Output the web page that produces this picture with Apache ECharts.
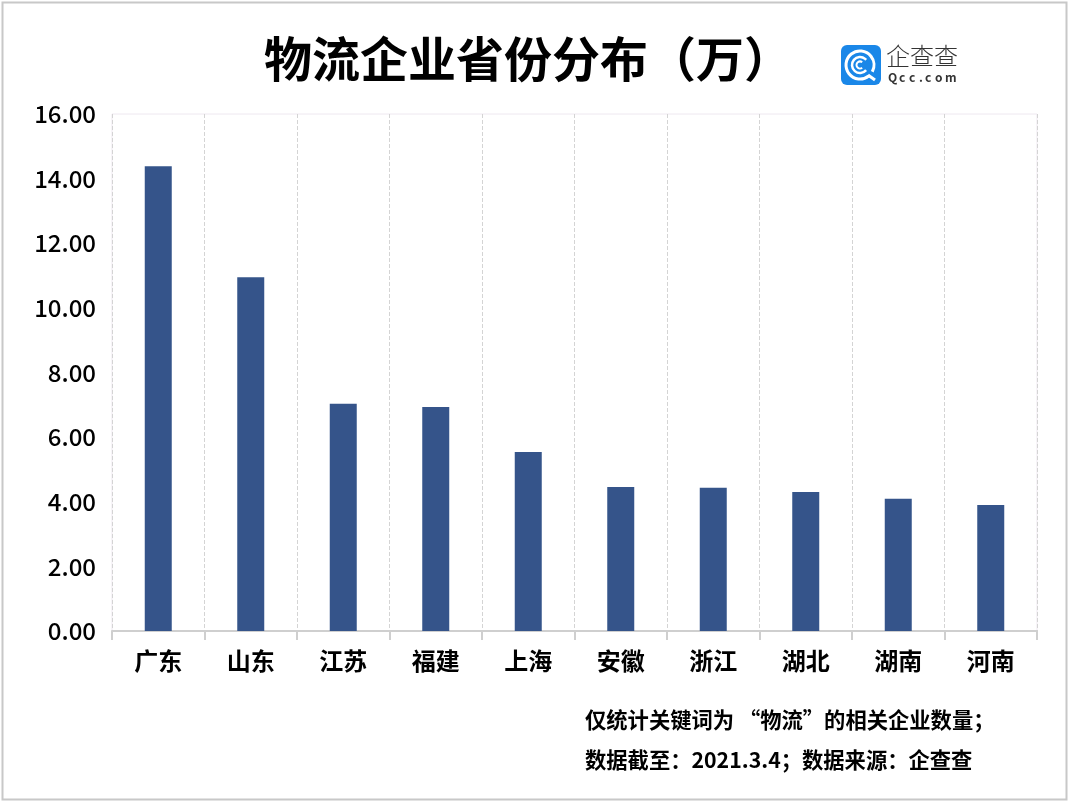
<!DOCTYPE html>
<html>
<head>
<meta charset="utf-8">
<style>html,body{margin:0;padding:0;background:#fff}#bar_chart{width:1071px;height:803px}</style>
<script src="https://cdn.jsdelivr.net/npm/echarts@6/dist/echarts.min.js"></script>
</head>
<body>
<div id="bar_chart"></div>
<script>
var myChart = echarts.init(document.getElementById("bar_chart"));

const cjk = '"Noto Sans CJK SC", sans-serif';
const provinces = ["广东", "山东", "江苏", "福建", "上海", "安徽", "浙江", "湖北", "湖南", "河南"];
const counts = [14.38, 10.95, 7.03, 6.93, 5.54, 4.46, 4.43, 4.30, 4.09, 3.90];

// logo letters are placed one by one to get the wide spacing
const logoLetters = "Qcc.com".split("").map(function (ch, i) {
    return {
        type: "text", left: [888, 899, 909, 919, 925, 935, 945][i], top: 71,
        style: { text: ch, fill: "#333", font: "bold 12px " + cjk }
    };
});

myChart.setOption({
    animation: false,
    backgroundColor: "#fff",
    title: {
        text: "物流企业省份分布（万）",
        left: 259,
        top: 30,
        textStyle: { color: "#000", fontSize: 48, fontWeight: "bold", fontFamily: cjk }
    },
    // grid border gives the thin frame, only the top and sides stay visible
    grid: { show: true, borderColor: "#eee8f0", borderWidth: 1, left: 112, right: 34, top: 114, bottom: 172 },
    xAxis: {
        type: "category",
        data: provinces,
        axisLine: { lineStyle: { color: "#cfcfcf", width: 2 } },
        axisTick: { show: true, length: 9, lineStyle: { color: "#cfcfcf", width: 2 } },
        axisLabel: { color: "#000", fontSize: 24, fontWeight: "bold", fontFamily: cjk, margin: 18 },
        splitLine: { show: true, lineStyle: { color: "#d4d4d4", type: "dashed", width: 1 } }
    },
    yAxis: {
        type: "value",
        min: 0,
        max: 16,
        interval: 2,
        axisLine: { show: false },
        axisTick: { show: false },
        axisLabel: {
            color: "#000", fontSize: 24, fontWeight: 500, fontFamily: cjk, margin: 16,
            verticalAlign: "middle",
            padding: [0, 0, 4, 0],
            formatter: function (v) { return v.toFixed(2); }
        },
        splitLine: { show: false }
    },
    series: [{
        type: "bar",
        data: counts,
        barWidth: 27,
        itemStyle: { color: "#35548a" }
    }],
    graphic: [
        { type: "rect", shape: { x: 2.5, y: 2.5, width: 1064, height: 797 }, style: { fill: "none", stroke: "#c8c8c8", lineWidth: 2 }, z: 10 },
        { type: "rect", shape: { x: 841, y: 45, width: 40, height: 40, r: 6 }, style: { fill: "#1a87e8" } },
        { type: "arc", shape: { cx: 860, cy: 65, r: 14, startAngle: 0.9, endAngle: 0.5 }, style: { fill: "none", stroke: "#fff", lineWidth: 3 }, z: 11 },
        { type: "arc", shape: { cx: 860, cy: 65, r: 8, startAngle: 0.7, endAngle: -0.7 }, style: { fill: "none", stroke: "#fff", lineWidth: 2.5 }, z: 11 },
        { type: "arc", shape: { cx: 860, cy: 65, r: 3.5, startAngle: 0.9, endAngle: -0.9 }, style: { fill: "none", stroke: "#fff", lineWidth: 2 }, z: 11 },
        { type: "line", shape: { x1: 868, y1: 75, x2: 875, y2: 80 }, style: { stroke: "#fff", lineWidth: 3 }, z: 11 },
        { type: "text", left: 886, top: 44, style: { text: "企查查", fill: "#333", font: "300 24px " + cjk } },
        { type: "text", left: 585, top: 709, style: { text: "仅统计关键词为 “物流”的相关企业数量；", fill: "#000", font: "bold 21.3px " + cjk } },
        { type: "text", left: 585, top: 749, style: { text: "数据截至：2021.3.4；数据来源：企查查", fill: "#000", font: "bold 21.3px " + cjk } }
    ].concat(logoLetters)
});
</script>
</body>
</html>
